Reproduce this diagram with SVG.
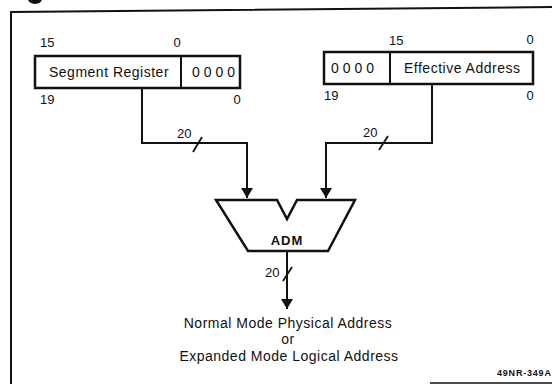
<svg xmlns="http://www.w3.org/2000/svg" width="552" height="384" viewBox="0 0 552 384">
<style>
  .t { font-family: "Liberation Sans", Arial, sans-serif; fill: #111; }
  .lbl { font-size: 14px; letter-spacing: 0.5px; }
  .num { font-size: 13px; }
  .zeros { font-size: 14px; letter-spacing: 4px; }
  .box { fill: #fff; stroke: #111; stroke-width: 2.5; }
  .wire { fill: none; stroke: #111; stroke-width: 2; }
  .slash { stroke: #111; stroke-width: 1.8; }
</style>
<defs>
  <marker id="arr" viewBox="0 0 10 12" refX="10" refY="6" markerWidth="10" markerHeight="12" markerUnits="userSpaceOnUse" orient="auto">
    <path d="M0,0 L10,6 L0,12 Z" fill="#111"/>
  </marker>
</defs>
<rect x="0" y="0" width="552" height="384" fill="#fff"/>
<g id="frame">
  <ellipse cx="35" cy="-1" rx="7" ry="5" fill="#111"/>
  <path d="M11 384 V12 L552 7" fill="none" stroke="#111" stroke-width="2"/>
  <path d="M430 383 H552" fill="none" stroke="#111" stroke-width="1.6"/>
</g>
<g id="reg-segment">
  <rect class="box" x="35" y="56" width="205" height="32"/>
  <line x1="181" y1="56" x2="181" y2="88" stroke="#111" stroke-width="2"/>
  <text class="t lbl" x="49" y="77">Segment Register</text>
  <text class="t zeros" x="192" y="77">0000</text>
  <text class="t num" x="40" y="47">15</text>
  <text class="t num" x="177" y="47" text-anchor="middle">0</text>
  <text class="t num" x="40" y="104">19</text>
  <text class="t num" x="237" y="104" text-anchor="middle">0</text>
</g>
<g id="reg-effective">
  <rect class="box" x="324" y="52" width="209" height="32"/>
  <line x1="390" y1="52" x2="390" y2="84" stroke="#111" stroke-width="2"/>
  <text class="t zeros" x="331" y="73">0000</text>
  <text class="t lbl" x="404" y="73">Effective Address</text>
  <text class="t num" x="389" y="45">15</text>
  <text class="t num" x="530" y="44" text-anchor="middle">0</text>
  <text class="t num" x="324" y="100">19</text>
  <text class="t num" x="530" y="100" text-anchor="middle">0</text>
</g>
<g id="adm">
  <path d="M216 200 H277 L287 219 L297 200 H355 L328 251 H248 Z" fill="#fff" stroke="#111" stroke-width="2.5" stroke-linejoin="miter"/>
  <text class="t" x="287" y="245" text-anchor="middle" font-size="13" font-weight="bold" letter-spacing="1">ADM</text>
</g>
<g id="connectors">
  <path class="wire" d="M142 88 V143 H247 V198" marker-end="url(#arr)"/>
  <line class="slash" x1="193" y1="152" x2="202" y2="137"/>
  <text class="t num" x="177" y="138">20</text>
  <path class="wire" d="M432 84 V143 H326 V198" marker-end="url(#arr)"/>
  <line class="slash" x1="379" y1="150" x2="388" y2="136"/>
  <text class="t num" x="363" y="137">20</text>
  <path class="wire" d="M287 251 V309" marker-end="url(#arr)"/>
  <line class="slash" x1="283" y1="281" x2="292" y2="267"/>
  <text class="t num" x="265" y="277">20</text>
</g>
<g id="output-label">
  <text class="t lbl" x="288" y="328" text-anchor="middle">Normal Mode Physical Address</text>
  <text class="t lbl" x="288" y="344" text-anchor="middle">or</text>
  <text class="t lbl" x="289" y="361" text-anchor="middle">Expanded Mode Logical Address</text>
</g>
<text class="t" x="497" y="376" font-size="9" font-weight="bold" letter-spacing="0.8">49NR-349A</text>
</svg>
